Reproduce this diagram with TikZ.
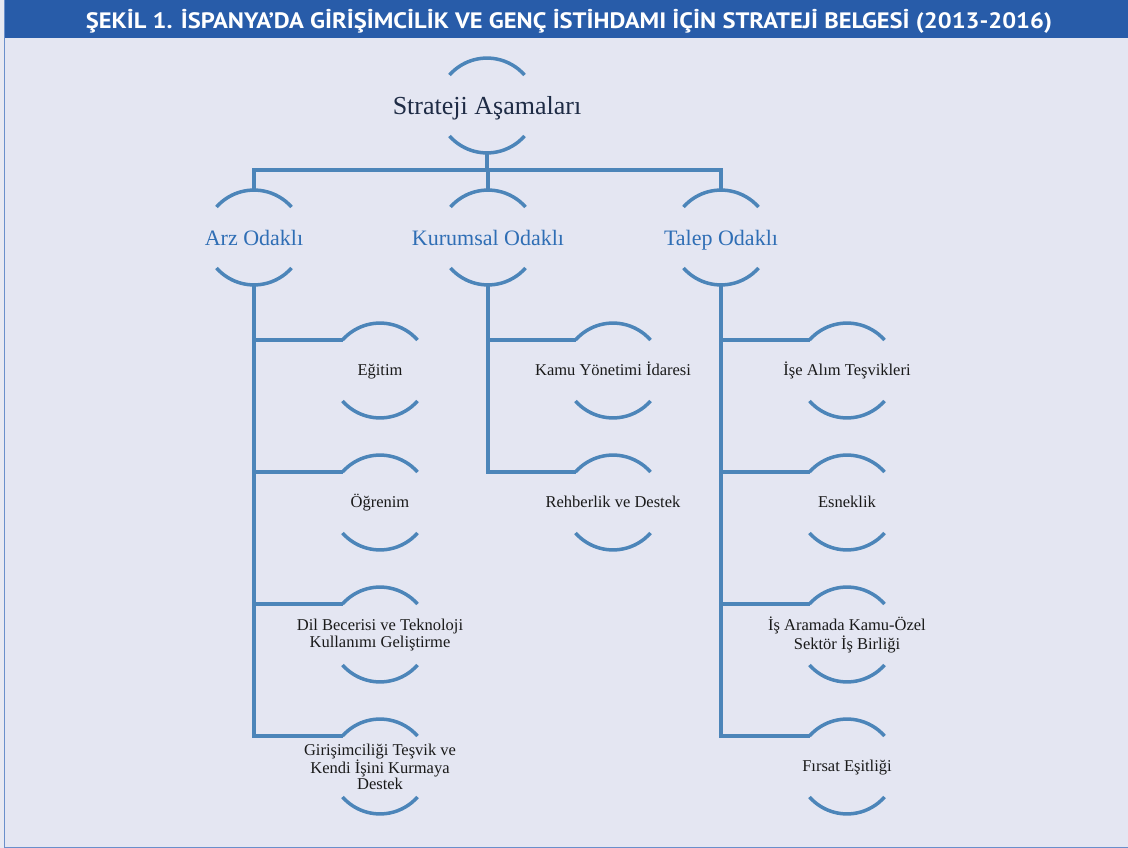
\documentclass[tikz,border=0pt]{standalone}
\usepackage{fontspec}
\setmainfont{Liberation Serif}
\newfontfamily\titlefont{PT Sans}
\definecolor{barblue}{HTML}{285CA9}
\definecolor{panel}{HTML}{E4E6F2}
\definecolor{strip}{HTML}{E8E9F2}
\definecolor{edge}{HTML}{6A8FCB}
\definecolor{linec}{HTML}{4C85B9}
\definecolor{rootc}{HTML}{1E2B45}
\definecolor{midc}{HTML}{2F6EB5}
\definecolor{leafc}{HTML}{1A1A1A}
\tikzset{
  arcline/.style={draw=linec,line width=3.5pt},
  conn/.style={draw=linec,line width=3.5pt,line join=miter,line cap=rect},
  rootnode/.style={inner sep=0pt,text height=17.8pt,text depth=1pt,font=\fontsize{26}{28}\selectfont,text=rootc},
  midnode/.style={inner sep=0pt,text height=15pt,text depth=0pt,font=\fontsize{22}{24}\selectfont,text=midc},
  leafmulti/.style={inner sep=0pt,align=center,font=\fontsize{16.5}{16.5}\selectfont,text=leafc},
  leafnode/.style={leafmulti,text height=11.5pt,text depth=3.5pt},
}
\newcommand\caparcs[1]{%
  \coordinate (#1-tl) at ([shift={(-37.5,-31)}]#1.center);
  \coordinate (#1-top) at ([shift={(0,-48)}]#1.center);
  \coordinate (#1-bot) at ([shift={(0,47)}]#1.center);
  \draw[arcline] (#1-tl) arc[start angle=221.4,end angle=318.6,radius=50];
  \draw[arcline] ([shift={(-37.5,30)}]#1.center) arc[start angle=138.6,end angle=41.4,radius=50];
}
\begin{document}
\begin{tikzpicture}[x=1pt,y=-1pt]
\useasboundingbox (0,0) rectangle (1128,848);
% background
\fill[strip] (0,0) rectangle (1128,848);
\fill[panel] (5,38) rectangle (1128,848);
\fill[barblue] (5,0) rectangle (1128,38);
\draw[edge,line width=1.2pt] (4.6,0) -- (4.6,847.4) -- (1128,847.4);
\node[text=white,inner sep=0pt,xscale=1.1,font=\titlefont\bfseries\fontsize{22.3}{24}\selectfont] (title) at (569,21) {ŞEKİL 1. İSPANYA’DA GİRİŞİMCİLİK VE GENÇ İSTİHDAMI İÇİN STRATEJİ BELGESİ (2013-2016)};
% nodes
\node[rootnode] (root) at (487,106) {Strateji Aşamaları};
\node[midnode] (arz) at (254,238) {Arz Odaklı};
\node[midnode] (kur) at (488,238) {Kurumsal Odaklı};
\node[midnode] (tal) at (721,238) {Talep Odaklı};
\node[leafnode] (a1) at (380,371) {Eğitim};
\node[leafnode] (a2) at (380,503) {Öğrenim};
\node[leafmulti] (a3) at (380,635) {Dil Becerisi ve Teknoloji\\Kullanımı Geliştirme};
\node[leafmulti] (a4) at (380,767) {Girişimciliği Teşvik ve\\Kendi İşini Kurmaya\\Destek};
\node[leafnode] (k1) at (613,371) {Kamu Yönetimi İdaresi};
\node[leafnode] (k2) at (613,503) {Rehberlik ve Destek};
\node[leafnode] (t1) at (847,371) {İşe Alım Teşvikleri};
\node[leafnode] (t2) at (847,503) {Esneklik};
\node[leafmulti] (t3) at (847,635) {İş Aramada Kamu-Özel\\Sektör İş Birliği};
\node[leafnode] (t4) at (847,767) {Fırsat Eşitliği};
% arcs
\caparcs{root}
\caparcs{arz}\caparcs{kur}\caparcs{tal}
\caparcs{a1}\caparcs{a2}\caparcs{a3}\caparcs{a4}
\caparcs{k1}\caparcs{k2}
\caparcs{t1}\caparcs{t2}\caparcs{t3}\caparcs{t4}
% connectors
\coordinate (bar) at (487,170);
\draw[conn] (root-bot) -- (root-bot |- bar);
\draw[conn] (arz-top) -- (arz-top |- bar) -- (tal-top |- bar) -- (tal-top);
\draw[conn] (kur-top |- bar) -- (kur-top);
\draw[conn,line cap=butt] (arz-bot) -- (arz-bot |- a4-tl) -- (a4-tl);
\draw[conn,line cap=butt] (arz-bot |- a1-tl) -- (a1-tl);
\draw[conn,line cap=butt] (arz-bot |- a2-tl) -- (a2-tl);
\draw[conn,line cap=butt] (arz-bot |- a3-tl) -- (a3-tl);
\draw[conn,line cap=butt] (kur-bot) -- (kur-bot |- k2-tl) -- (k2-tl);
\draw[conn,line cap=butt] (kur-bot |- k1-tl) -- (k1-tl);
\draw[conn,line cap=butt] (tal-bot) -- (tal-bot |- t4-tl) -- (t4-tl);
\draw[conn,line cap=butt] (tal-bot |- t1-tl) -- (t1-tl);
\draw[conn,line cap=butt] (tal-bot |- t2-tl) -- (t2-tl);
\draw[conn,line cap=butt] (tal-bot |- t3-tl) -- (t3-tl);
\end{tikzpicture}
\end{document}
